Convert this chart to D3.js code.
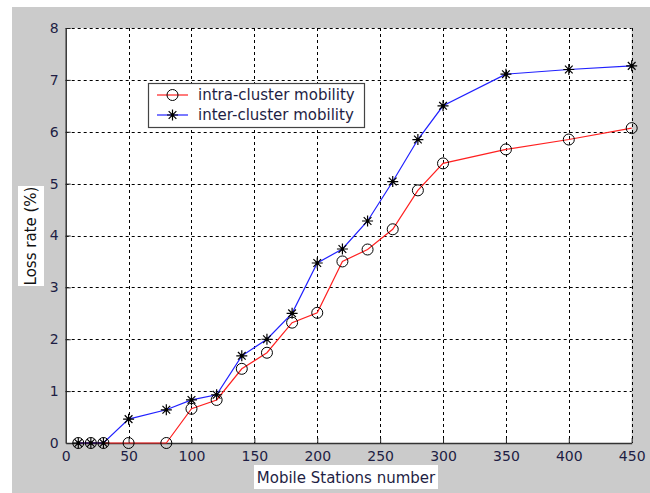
<!DOCTYPE html>
<html>
<head>
<meta charset="utf-8">
<script src="https://cdn.jsdelivr.net/npm/d3@7"></script>
<style>
  body { margin: 0; background: #fff; }
  text { font-family: "DejaVu Sans", Verdana, sans-serif; }
</style>
</head>
<body>
<svg id="chart" width="650" height="493"></svg>
<script>
const stations = [10, 20, 30, 50, 80, 100, 120, 140, 160, 180, 200, 220, 240, 260, 280, 300, 350, 400, 450]
const intraLoss = [0, 0, 0, 0, 0, 0.66, 0.83, 1.43, 1.74, 2.32, 2.51, 3.5, 3.73, 4.12, 4.87, 5.39, 5.66, 5.85, 6.07]
const interLoss = [0, 0, 0, 0.46, 0.64, 0.83, 0.93, 1.68, 2.0, 2.5, 3.47, 3.74, 4.28, 5.04, 5.85, 6.5, 7.11, 7.2, 7.27]
const xTicks = [0, 50, 100, 150, 200, 250, 300, 350, 400, 450]
const yTicks = [0, 1, 2, 3, 4, 5, 6, 7, 8]
const seriesNames = ['intra-cluster mobility', 'inter-cluster mobility']

const plot = { left: 65.7, right: 631.7, top: 28, bottom: 443 }
const textColor = '#1e1e44'
const font = '"DejaVu Sans", Verdana, sans-serif'

const svg = d3.select('#chart')

svg.append('rect')
    .attr('x', 12).attr('y', 7)
    .attr('width', 638).attr('height', 486)
    .attr('fill', '#cbcbcb')

const x = d3.scaleLinear().domain([0, 450]).range([plot.left, plot.right])
const y = d3.scaleLinear().domain([0, 8]).range([plot.bottom, plot.top])

svg.append('rect')
    .attr('x', plot.left).attr('y', plot.top)
    .attr('width', plot.right - plot.left).attr('height', plot.bottom - plot.top)
    .attr('fill', '#fff')

// dashed grid
const grid = svg.append('g').attr('stroke', '#000').attr('stroke-dasharray', '3,3').attr('stroke-width', 1)
xTicks.slice(1).forEach(t => {
    grid.append('line')
        .attr('x1', Math.round(x(t)) + 0.5).attr('x2', Math.round(x(t)) + 0.5)
        .attr('y1', plot.top).attr('y2', plot.bottom)
})
yTicks.slice(1).forEach(t => {
    grid.append('line')
        .attr('x1', plot.left).attr('x2', plot.right)
        .attr('y1', Math.round(y(t)) + 0.5).attr('y2', Math.round(y(t)) + 0.5)
})

// axes (ticks inward, labels outside)
const xAxis = svg.append('g')
    .attr('transform', `translate(0,${plot.bottom})`)
    .call(d3.axisBottom(x).tickValues(xTicks).tickSizeInner(-5).tickSizeOuter(0).tickPadding(10))
const yAxis = svg.append('g')
    .attr('transform', `translate(${plot.left},0)`)
    .call(d3.axisLeft(y).tickValues(yTicks).tickSizeInner(-5).tickSizeOuter(0).tickPadding(7))

;[xAxis, yAxis].forEach(ax => {
    ax.select('.domain').attr('stroke', '#333').attr('stroke-width', 1.5)
    ax.selectAll('.tick line').attr('stroke', '#222')
    ax.selectAll('.tick text')
        .attr('fill', textColor)
        .style('font-size', '14px')
        .style('font-family', font)
})
xAxis.selectAll('.tick text').attr('dy', '0.6em')
xAxis.selectAll('.tick').filter(d => d === 0).select('line').remove()
yAxis.selectAll('.tick').filter(d => d === 0).select('line').remove()

// axis titles with white boxes
const xl = svg.append('g')
xl.append('rect').attr('x', 254).attr('y', 465).attr('width', 184).attr('height', 24).attr('fill', '#fff')
xl.append('text').attr('x', 346).attr('y', 483)
    .attr('text-anchor', 'middle').attr('fill', textColor).style('font-size', '15px')
    .text('Mobile Stations number')

const yl = svg.append('g').attr('transform', 'translate(31,236) rotate(-90)')
yl.append('rect').attr('x', -50).attr('y', -13).attr('width', 100).attr('height', 26).attr('fill', '#fff')
yl.append('text').attr('x', 0).attr('y', 5)
    .attr('text-anchor', 'middle').attr('fill', '#111').style('font-size', '15px')
    .text('Loss rate (%)')

// series
const line = d3.line().x(d => x(d[0])).y(d => y(d[1]))
const intraPts = stations.map((s, i) => [s, intraLoss[i]])
const interPts = stations.map((s, i) => [s, interLoss[i]])

svg.append('path').datum(intraPts).attr('d', line)
    .attr('fill', 'none').attr('stroke', '#ff2020').attr('stroke-width', 1.2)
svg.append('path').datum(interPts).attr('d', line)
    .attr('fill', 'none').attr('stroke', '#2020ff').attr('stroke-width', 1.2)

function drawCircle(g, cx, cy) {
    g.append('circle').attr('cx', cx).attr('cy', cy).attr('r', 5.5)
        .attr('fill', 'none').attr('stroke', '#000').attr('stroke-width', 1)
}
function drawStar(g, cx, cy) {
    const r = 5.5
    const p = `M${cx - r},${cy}H${cx + r}M${cx},${cy - r}V${cy + r}` +
        `M${cx - r * 0.7},${cy - r * 0.7}L${cx + r * 0.7},${cy + r * 0.7}` +
        `M${cx - r * 0.7},${cy + r * 0.7}L${cx + r * 0.7},${cy - r * 0.7}`
    g.append('path').attr('d', p).attr('stroke', '#000').attr('stroke-width', 1.2).attr('fill', 'none')
    g.append('circle').attr('cx', cx).attr('cy', cy).attr('r', 1.8).attr('fill', '#000')
}

const marks = svg.append('g')
intraPts.forEach(d => drawCircle(marks, x(d[0]), y(d[1])))
interPts.forEach(d => drawStar(marks, x(d[0]), y(d[1])))

// legend
const lg = svg.append('g')
lg.append('rect').attr('x', 148.5).attr('y', 83.5).attr('width', 216).attr('height', 44)
    .attr('fill', '#fff').attr('stroke', '#444').attr('stroke-width', 1.2)
const lcolors = ['#ff2020', '#2020ff']
seriesNames.forEach((name, i) => {
    const ly = 95 + i * 20
    lg.append('line').attr('x1', 157).attr('x2', 188).attr('y1', ly).attr('y2', ly)
        .attr('stroke', lcolors[i]).attr('stroke-width', 1.2)
    if (i === 0) drawCircle(lg, 172.5, ly)
    else drawStar(lg, 172.5, ly)
    lg.append('text').attr('x', 198).attr('y', ly + 5)
        .attr('fill', textColor).style('font-size', '15px')
        .text(name)
})
</script>
</body>
</html>
